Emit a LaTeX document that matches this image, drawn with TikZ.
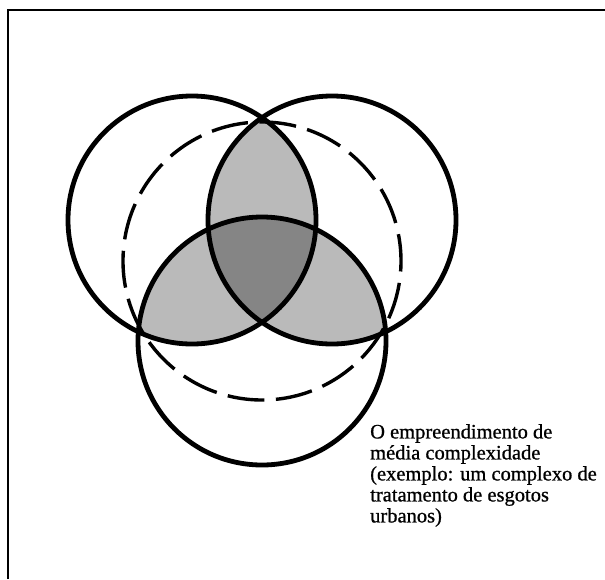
\documentclass[tikz,border=0pt]{standalone}
\usepackage{fontspec}
\setmainfont{Liberation Serif}
\newfontfamily\capfont[FakeBold=0.8]{Liberation Serif}
\usetikzlibrary{positioning}

\begin{document}
\begin{tikzpicture}[x=1pt, y=-1pt,
            ring/.style={draw=black, line width=4.8pt},
            dashring/.style={draw=black, line width=3.4pt, dash pattern=on 37pt off 11.5pt, dash phase=10pt},
            lens/.style={fill=black!27},
            core/.style={fill=black!48},
            frameline/.style={draw=black, line width=2.2pt},
            caption/.style={align=left, inner sep=0pt, font=\capfont\fontsize{20.5}{21}\selectfont}
        ]
        \useasboundingbox (0,0) rectangle (605,579);

        % Rahmen
        \coordinate (f1) at (8,579);
        \coordinate (f2) at (8,10);
        \coordinate (f3) at (605,10);
        \draw[frameline] (f1) -- (f2) -- (f3);

        % Mittelpunkte
        \coordinate (a) at (192,220);
        \coordinate (b) at (332,220);
        \coordinate (c) at (262,341);
        \coordinate (m) at (262,261);

        % Schnittflaechen
        \begin{scope}
            \clip (a) circle[radius=124pt];
            \fill[lens] (b) circle[radius=124pt];
            \fill[lens] (c) circle[radius=124pt];
        \end{scope}
        \begin{scope}
            \clip (b) circle[radius=124pt];
            \fill[lens] (c) circle[radius=124pt];
        \end{scope}
        \begin{scope}
            \clip (a) circle[radius=124pt];
            \clip (b) circle[radius=124pt];
            \fill[core] (c) circle[radius=124pt];
        \end{scope}

        % Kreise
        \draw[dashring] (m) circle[radius=139pt];
        \draw[ring] (a) circle[radius=124pt];
        \draw[ring] (b) circle[radius=124pt];
        \draw[ring] (c) circle[radius=124pt];

        % Text
        \node[caption, anchor=north west] (txt) at (370,424) {O empreendimento de\\média complexidade\\(exemplo: um complexo de\\tratamento de esgotos\\urbanos)};

    \end{tikzpicture}
\end{document}
